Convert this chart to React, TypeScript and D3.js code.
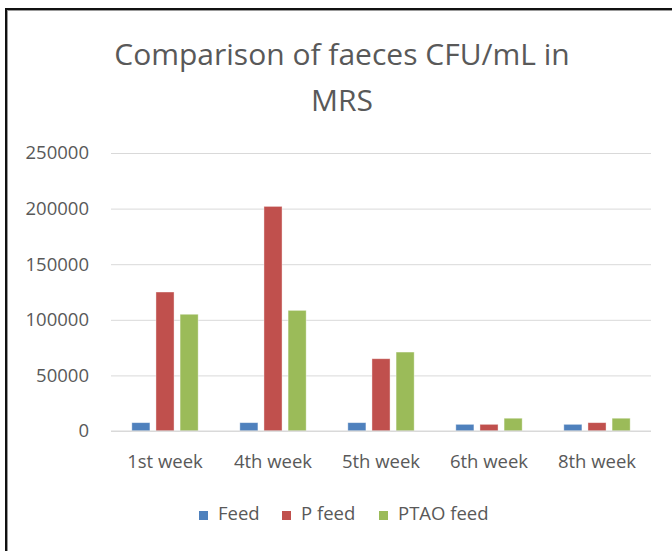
import { useEffect, useRef } from "react";
import * as d3 from "d3";

const weeks = ["1st week", "4th week", "5th week", "6th week", "8th week"];
const seriesNames = ["Feed", "P feed", "PTAO feed"];
const feed = [7500, 7500, 7500, 6000, 6000];
const pFeed = [125000, 202000, 65000, 6000, 7500];
const ptaoFeed = [105000, 108500, 71000, 11500, 11500];
const yTicks = [0, 50000, 100000, 150000, 200000, 250000];
const titleLines = ["Comparison of faeces CFU/mL in", "MRS"];

const COLORS = ["#4f81bd", "#c0504d", "#9bbb59"];
const FONT = "'Open Sans', sans-serif";

export default function App() {
  const ref = useRef<SVGSVGElement>(null);

  useEffect(() => {
    const w = 672, h = 551;
    const m = { top: 153, right: 21, bottom: 120, left: 111 };
    const svg = d3.select(ref.current)
      .attr("width", w)
      .attr("height", h)
      .attr("viewBox", `0 0 ${w} ${h}`);

    svg.selectAll("*").remove();
    svg.append("rect").attr("width", w).attr("height", h).attr("fill", "#fff");

    // frame (only top and left edges visible)
    svg.append("line").attr("x1", 5).attr("x2", w).attr("y1", 9).attr("y2", 9)
      .attr("stroke", "#111").attr("stroke-width", 2);
    svg.append("line").attr("x1", 6).attr("x2", w).attr("y1", 10.5).attr("y2", 10.5)
      .attr("stroke", "#999").attr("stroke-width", 1);
    svg.append("line").attr("x1", 6).attr("x2", 6).attr("y1", 8).attr("y2", h)
      .attr("stroke", "#111").attr("stroke-width", 2);
    svg.append("line").attr("x1", 7.5).attr("x2", 7.5).attr("y1", 10).attr("y2", h)
      .attr("stroke", "#999").attr("stroke-width", 1);

    const values = [feed, pFeed, ptaoFeed];

    const x0 = d3.scaleBand().domain(weeks).range([m.left, w - m.right])
      .paddingInner(0.33).paddingOuter(0.165);
    const x1 = d3.scaleBand().domain(seriesNames).range([0, x0.bandwidth()])
      .paddingInner(0.25).paddingOuter(0.125);
    const y = d3.scaleLinear().domain([0, 250000]).range([h - m.bottom - 0, m.top]);
    // baseline at 431
    y.range([431, 153]);

    // title
    svg.append("g")
      .selectAll("text")
      .data(titleLines)
      .join("text")
      .attr("x", 342)
      .attr("y", (_, i) => 65 + i * 46)
      .attr("text-anchor", "middle")
      .attr("font-family", FONT)
      .attr("font-size", 30)
      .attr("fill", "#595959")
      .text((d) => d);

    // gridlines + y labels
    const yAxis = svg.append("g")
      .attr("transform", `translate(${m.left},0)`)
      .call(d3.axisLeft(y).tickValues(yTicks).tickSize(-(w - m.right - m.left)).tickPadding(22)
        .tickFormat((d) => String(d)));
    yAxis.select(".domain").remove();
    yAxis.selectAll(".tick line").attr("stroke", "#d9d9d9").attr("stroke-width", 1);
    yAxis.selectAll(".tick text")
      .attr("font-family", FONT)
      .attr("font-size", 18.5)
      .attr("fill", "#595959");

    // bars
    svg.append("g")
      .selectAll("g")
      .data(weeks)
      .join("g")
      .attr("transform", (d) => `translate(${x0(d)},0)`)
      .selectAll("rect")
      .data((_, i) => seriesNames.map((s, k) => ({ s, k, v: values[k][i] })))
      .join("rect")
      .attr("x", (d) => x1(d.s)!)
      .attr("y", (d) => y(d.v))
      .attr("width", x1.bandwidth())
      .attr("height", (d) => y(0) - y(d.v))
      .attr("fill", (d) => COLORS[d.k])
      .attr("stroke", "#fff")
      .attr("stroke-opacity", 0.5)
      .attr("stroke-width", 0.8);

    // x axis
    const xAxis = svg.append("g")
      .attr("transform", `translate(0,${y(0)})`)
      .call(d3.axisBottom(x0).tickSize(0).tickPadding(24).tickSizeOuter(0));
    xAxis.select(".domain").attr("stroke", "#d9d9d9")
      .attr("d", `M${m.left},0H${w - m.right}`);
    xAxis.selectAll(".tick text")
      .attr("font-family", FONT)
      .attr("font-size", 18.5)
      .attr("fill", "#595959");

    // legend
    const legendX = [199, 282, 379];
    const lg = svg.append("g")
      .selectAll("g")
      .data(seriesNames)
      .join("g")
      .attr("transform", (_, i) => `translate(${legendX[i]},520)`);
    lg.append("rect")
      .attr("y", -9)
      .attr("width", 9)
      .attr("height", 9)
      .attr("fill", (_, i) => COLORS[i]);
    lg.append("text")
      .attr("x", 19)
      .attr("font-family", FONT)
      .attr("font-size", 18.5)
      .attr("fill", "#595959")
      .text((d) => d);
  }, []);

  return (
    <div style={{ position: "absolute", left: 0, top: 0 }}>
      <svg ref={ref} style={{ display: "block" }} />
    </div>
  );
}
